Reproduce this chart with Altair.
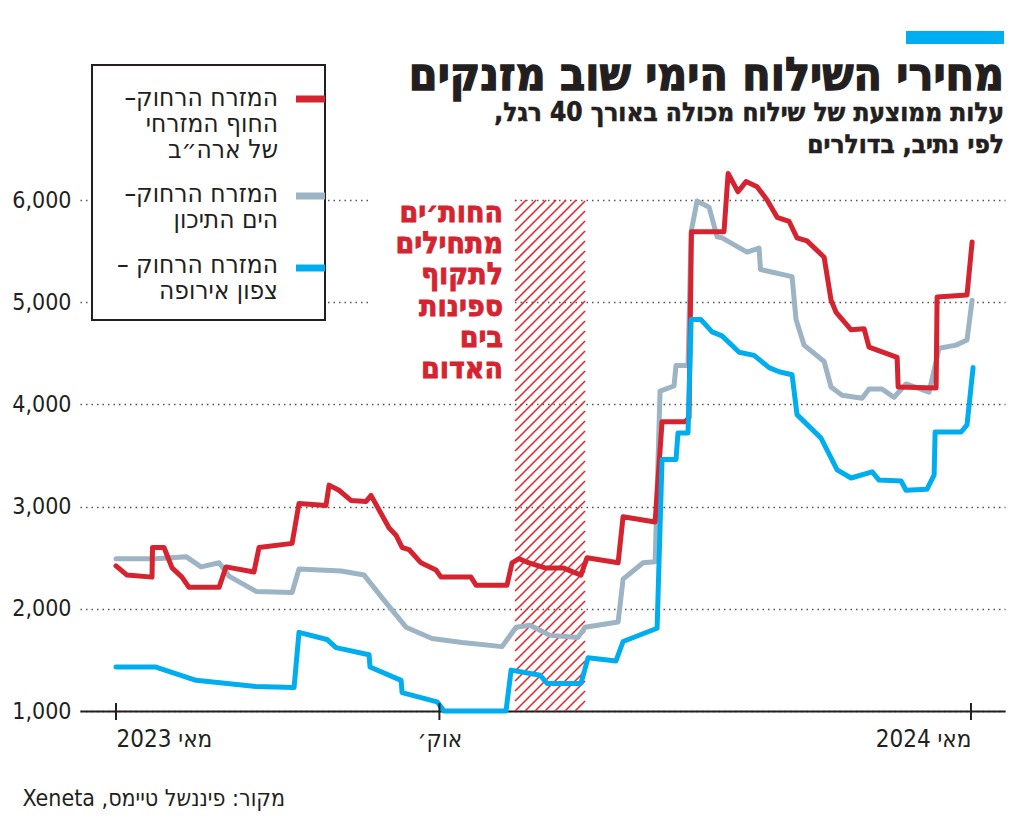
import altair as alt
import pandas as pd

# ---------------- data ----------------
# x = weeks after the May-2023 tick, y = USD per 40ft container
red_w = [0, 0.67, 2.19, 2.22, 2.92, 3.41, 4.01, 4.44, 6.27, 6.69, 8.39, 8.70, 10.71, 11.13, 12.77,
         12.96, 13.56, 14.29, 15.21, 15.51, 16.61, 17.03, 17.40, 17.82, 18.55, 19.46, 19.77, 21.59,
         21.90, 23.78, 24.09, 24.51, 25.12, 26.09, 27.19, 28.28, 28.65, 30.54, 30.84, 32.79, 33.21,
         34.61, 34.85, 35.0, 36.98, 37.23, 37.83, 38.32, 38.99, 39.60, 40.21, 40.94, 41.42, 42.03,
         43.07, 43.49, 43.80, 44.71, 45.50, 45.80, 47.51, 47.57, 49.88, 49.94, 51.76, 52.07]
red_v = [2420, 2330, 2310, 2600, 2600, 2400, 2310, 2210, 2210, 2410, 2360, 2600, 2640, 3030, 3010,
         3210, 3160, 3060, 3050, 3110, 2790, 2720, 2600, 2580, 2450, 2380, 2310, 2310,
         2230, 2230, 2450, 2490, 2450, 2400, 2400, 2330, 2500, 2450, 2900, 2850, 3830,
         3830, 3870, 5690, 5690, 6260, 6080, 6180, 6130, 6000, 5830, 5790, 5630, 5600,
         5440, 5020, 4900, 4730, 4740, 4560, 4460, 4170, 4160, 5050, 5070, 5590]

gray_w = [0, 2.43, 4.26, 5.17, 6.27, 6.87, 8.52, 10.71, 11.13, 13.69, 15.09, 16.42, 17.64, 19.22,
          21.05, 23.48, 24.33, 25.18, 26.40, 28.10, 28.53, 30.54, 30.84, 32.06, 32.79, 33.09, 33.94,
          34.06, 34.79, 34.98, 35.34, 36.07, 36.56, 36.86, 38.38, 39.11, 39.2, 41.12, 41.36, 41.85,
          43.07, 43.49, 44.16, 45.38, 45.80, 46.59, 47.32, 48.05, 49.45, 50.06, 51.09, 51.76, 52.07]
gray_v = [2490, 2490, 2510, 2410, 2450, 2320, 2170, 2160, 2390, 2370, 2330, 2060, 1820, 1710,
          1670, 1630, 1820, 1840, 1740, 1720, 1820, 1870, 2290, 2450, 2460, 4130, 4180,
          4380, 4380, 5690, 5990, 5930, 5640, 5630, 5490, 5530, 5320, 5250, 4830, 4580,
          4420, 4170, 4090, 4060, 4150, 4150, 4070, 4200, 4120, 4550, 4580, 4630, 5020]

blue_w = [0, 2.43, 4.87, 8.52, 10.83, 11.13, 12.83, 13.38, 15.39, 15.45, 17.34, 17.40, 19.53, 19.95,
          23.72, 24.03, 25.12, 25.79, 26.22, 28.28, 28.71, 30.41, 30.84, 32.91, 33.21, 34.06, 34.18,
          34.79, 34.98, 35.58, 36.25, 36.86, 37.90, 38.81, 39.72, 40.33, 41.12, 41.42, 42.88, 43.86,
          44.71, 45.99, 46.41, 47.75, 48.05, 49.33, 49.76, 49.82, 51.40, 51.76, 52.13]
blue_v = [1430, 1430, 1300, 1240, 1230, 1770, 1700, 1620, 1550, 1430, 1300, 1180, 1090, 1000,
          1000, 1400, 1370, 1350, 1270, 1270, 1520, 1490, 1680, 1810, 3460, 3460, 3720,
          3720, 4830, 4830, 4710, 4670, 4510, 4480, 4360, 4320, 4290, 3900, 3670, 3360,
          3280, 3340, 3260, 3250, 3160, 3170, 3310, 3730, 3730, 3800, 4360]

tick_pos = [0, 19.67, 52]
tick_labels = ["מאי 2023", "אוק׳", "מאי 2024"]
y_ticks = [1000, 2000, 3000, 4000, 5000, 6000]
hatch_start, hatch_end = 24.27, 28.53

legend_lines = [["המזרח הרחוק–", "החוף המזרחי", "של ארה״ב"],
                ["המזרח הרחוק–", "הים התיכון"],
                ["המזרח הרחוק –", "צפון אירופה"]]
title_text = "מחירי השילוח הימי שוב מזנקים"
subtitle_lines = ["עלות ממוצעת של שילוח מכולה באורך 40 רגל,", "לפי נתיב, בדולרים"]
annotation_lines = ["החות׳ים", "מתחילים", "לתקוף", "ספינות", "בים", "האדום"]
source_text = "מקור: פיננשל טיימס, Xeneta"

# ---------------- style ----------------
FONT = "DejaVu Sans Condensed"
INK = "#231f20"
RED = "#d62330"
GRAY = "#9cb4c4"
BLUE = "#00aeef"
W, H = 925, 511
XMIN, XMAX = -2.19, 54.07
YMIN, YMAX = 1000, 6000
HATCH_STEP = 10


def rtl(s):
    return "\u202b" + s + "\u202c"


x_scale = alt.Scale(domain=[XMIN, XMAX], nice=False, zero=False)
y_scale = alt.Scale(domain=[YMIN, YMAX], nice=False, zero=False)

label_expr = ""
for p, l in zip(tick_pos, tick_labels):
    label_expr += f"abs(datum.value - {p}) < 0.01 ? '{l}' : "
label_expr += "''"

x_axis = alt.Axis(values=tick_pos, labelExpr=label_expr, title=None, grid=False, ticks=False,
                  domain=True, domainColor=INK, domainWidth=2, labelFont=FONT, labelFontSize=24,
                  labelColor=INK, labelPadding=16, labelBaseline="top",
                  labelAlign={"condition": [{"test": "datum.value < 1", "value": "left"},
                                            {"test": "datum.value > 50", "value": "right"}],
                              "value": "center"})
y_axis = alt.Axis(values=y_ticks, format=",d", title=None, domain=False, ticks=False, grid=True,
                  gridDash=[1.5, 4], gridColor="#555555", gridWidth=1.4, labelFont=FONT,
                  labelFontSize=23, labelColor=INK, labelPadding=9)

one = pd.DataFrame({"k": [0]})


def line_layer(ws, vs, color):
    df = pd.DataFrame({"w": ws, "v": vs, "i": list(range(len(ws)))})
    return alt.Chart(df).mark_line(color=color, strokeWidth=5, strokeJoin="round",
                                   strokeCap="round").encode(
        x=alt.X("w:Q", scale=x_scale, axis=x_axis),
        y=alt.Y("v:Q", scale=y_scale, axis=y_axis),
        order="i:Q")


# hatched band (diagonal lines at 45 degrees on screen)
PX_W = W / (XMAX - XMIN)
PX_V = H / (YMAX - YMIN)
band_px = (hatch_end - hatch_start) * PX_W
rows = []
c = -band_px
while c < H:
    X0 = max(0.0, -c)
    X1 = min(band_px, H - c)
    if X1 > X0:
        rows.append({"hx": hatch_start + X0 / PX_W, "hx2": hatch_start + X1 / PX_W,
                     "hy": YMIN + (X0 + c) / PX_V, "hy2": YMIN + (X1 + c) / PX_V})
    c += HATCH_STEP
hatch = alt.Chart(pd.DataFrame(rows)).mark_rule(color="#e0282e", strokeWidth=1.6).encode(
    x=alt.X("hx:Q", scale=x_scale, axis=x_axis), x2="hx2:Q",
    y=alt.Y("hy:Q", scale=y_scale, axis=y_axis), y2="hy2:Q")

ann_bg = alt.Chart(one).mark_rect(fill="white").encode(
    x=alt.value(292), x2=alt.value(434), y=alt.value(-5), y2=alt.value(195))

ticks = alt.Chart(pd.DataFrame({"t": tick_pos})).mark_rule(color=INK, strokeWidth=2).encode(
    x=alt.X("t:Q", scale=x_scale, axis=x_axis), y=alt.value(H - 8), y2=alt.value(H + 9))

legend_box = alt.Chart(one).mark_rect(fill="white", stroke=INK, strokeWidth=2).encode(
    x=alt.value(12), x2=alt.value(245), y=alt.value(-135), y2=alt.value(120))

legend_layers = []
for lines, color, sy, ty in zip(legend_lines, [RED, GRAY, BLUE], [-101, -4, 68], [-94, 2, 73]):
    legend_layers.append(alt.Chart(one).mark_rule(color=color, strokeWidth=7).encode(
        x=alt.value(216), x2=alt.value(245), y=alt.value(sy)))
    legend_layers.append(alt.Chart(one).mark_text(
        text=[rtl(s) for s in lines], font=FONT, fontSize=26, color=INK, align="right",
        baseline="alphabetic", lineHeight=26).encode(x=alt.value(198), y=alt.value(ty)))

annotation = alt.Chart(one).mark_text(
    text=[rtl(s) for s in annotation_lines], font=FONT, fontSize=30, fontWeight="bold", color=RED,
    stroke=RED, strokeWidth=0.8, align="right", baseline="alphabetic",
    lineHeight=31.2).encode(x=alt.value(423), y=alt.value(22))

title = alt.Chart(one).mark_text(
    text=rtl(title_text), font=FONT, fontSize=46, fontWeight="bold", color=INK, stroke=INK,
    strokeWidth=1.3, align="right", baseline="alphabetic").encode(x=alt.value(924), y=alt.value(-110))

subtitle = alt.Chart(one).mark_text(
    text=[rtl(s) for s in subtitle_lines], font=FONT, fontSize=26, fontWeight="bold", color=INK,
    stroke=INK, strokeWidth=0.6, align="right", baseline="alphabetic",
    lineHeight=32).encode(x=alt.value(924), y=alt.value(-79))

bluebar = alt.Chart(one).mark_rect(fill=BLUE).encode(
    x=alt.value(826), x2=alt.value(924), y=alt.value(-169), y2=alt.value(-156))

source = alt.Chart(one).mark_text(
    text=rtl(source_text), font=FONT, fontSize=23, color=INK, align="right",
    baseline="alphabetic").encode(x=alt.value(205), y=alt.value(606))

chart = alt.layer(
    hatch,
    line_layer(gray_w, gray_v, GRAY),
    line_layer(red_w, red_v, RED),
    line_layer(blue_w, blue_v, BLUE),
    ticks,
    ann_bg,
    annotation,
    legend_box,
    *legend_layers,
    title,
    subtitle,
    bluebar,
    source,
).properties(
    width=W, height=H,
    autosize=alt.AutoSizeParams(type="none"),
    padding={"left": 72, "top": 192, "right": 8, "bottom": 102},
    background="white",
).configure_view(strokeWidth=0)

chart.save("out.html", embed_options={"renderer": "svg", "actions": False})
